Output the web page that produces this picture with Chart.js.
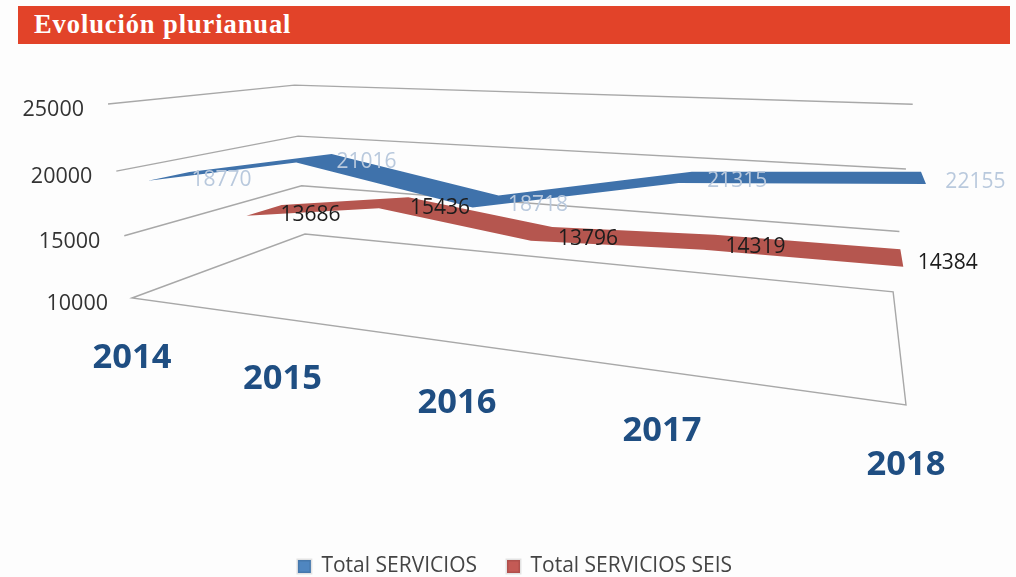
<!DOCTYPE html>
<html>
<head>
<meta charset="utf-8">
<title>Evolución plurianual</title>
<script src="https://cdn.jsdelivr.net/npm/chart.js@4"></script>
<style>
  html, body { margin: 0; background: #fdfdfd; overflow: hidden; }
  #wrap { position: relative; width: 1016px; height: 577px; overflow: hidden; }
  #header {
    position: absolute; left: 18px; top: 6px; width: 992px; height: 38px;
    background: #e24329; color: #fff; padding-left: 16px; box-sizing: border-box;
    font: bold 26.5px/37px "Liberation Serif", serif; letter-spacing: 0.9px;
  }
  canvas { position: absolute; left: 0; top: 0; filter: blur(0.5px); }
</style>
</head>
<body>
<div id="wrap">
  <canvas id="chart" width="1016" height="587"></canvas>
  <div id="header">Evolución plurianual</div>
</div>
<script>
const years = ["2014", "2015", "2016", "2017", "2018"];
const totalServicios = [18770, 21016, 18718, 21315, 22155];
const totalServiciosSeis = [13686, 15436, 13796, 14319, 14384];
const axisMin = 10000;
const axisMax = 25000;
const axisStep = 5000;

// ribbon depth inside the box for each series, 0 = front, 1 = back
const ribbons = [
  { z0: 0.13, z1: 0.33, labelColor: "#b9c9dd", dx: 52, dy: 4 },
  { z0: 0.62, z1: 0.85, labelColor: "#1c1c1c", dx: 46, dy: 5 }
];

// box corners on the page and the perspective terms of the 3D look
const A = [132, 298];
const right = [906, 405];
const up = [108, 104];
const back = [305, 234];
const p = -0.276, q = -0.055, r = 0.31;

const ax = [right[0] * (1 + p) - A[0], right[1] * (1 + p) - A[1]];
const bx = [up[0] * (1 + q) - A[0], up[1] * (1 + q) - A[1]];
const cx = [back[0] * (1 + r) - A[0], back[1] * (1 + r) - A[1]];

function project(X, Y, Z) {
  const w = 1 + X * p + Y * q + Z * r;
  return [
    (A[0] + X * ax[0] + Y * bx[0] + Z * cx[0]) / w,
    (A[1] + X * ax[1] + Y * bx[1] + Z * cx[1]) / w
  ];
}

function poly(ctx, pts) {
  ctx.beginPath();
  pts.forEach((pt, i) => i ? ctx.lineTo(pt[0], pt[1]) : ctx.moveTo(pt[0], pt[1]));
}

const box3d = {
  id: "box3d",
  beforeDatasetsDraw(chart) {
    const ctx = chart.ctx, yScale = chart.scales.y, xScale = chart.scales.x;
    const normY = v => (yScale.bottom - yScale.getPixelForValue(v)) / yScale.height;
    const normX = i => (xScale.getPixelForValue(i) - xScale.left) / xScale.width;
    ctx.save();
    ctx.strokeStyle = "#a8a8a8";
    ctx.lineWidth = 1.4;
    ctx.fillStyle = "#333";
    ctx.font = "21.5px 'Open Sans'";
    ctx.textBaseline = "middle";
    ctx.textAlign = "right";
    yScale.ticks.forEach(t => {
      const Y = normY(t.value);
      poly(ctx, [project(0, Y, 0), project(0, Y, 1), project(1, Y, 1)]);
      if (Y < 0.001) {
        ctx.lineTo(...project(1, 0, 0));
        ctx.closePath();
      }
      ctx.stroke();
      const pos = project(0, Y, 0);
      ctx.fillText(String(t.value), pos[0] - 24, pos[1] + 6);
    });
    ctx.fillStyle = "#1f4e82";
    ctx.font = "bold 34.5px 'Open Sans'";
    ctx.textAlign = "center";
    years.forEach((year, i) => {
      const pos = project(normX(i), 0, 0);
      ctx.fillText(year, pos[0], pos[1] + 60);
    });
    ctx.restore();
  },
  afterDatasetsDraw(chart) {
    const ctx = chart.ctx, area = chart.chartArea;
    const toBox = el => [(el.x - area.left) / area.width, (area.bottom - el.y) / area.height];
    ctx.save();
    // back series first so the blue one lies on top
    [1, 0].forEach(i => {
      const pts = chart.getDatasetMeta(i).data.map(toBox);
      const rb = ribbons[i];
      const front = pts.map(b => project(b[0], b[1], rb.z0));
      const rear = pts.map(b => project(b[0], b[1], rb.z1));
      poly(ctx, front.concat(rear.reverse()));
      ctx.closePath();
      ctx.fillStyle = chart.data.datasets[i].ribbonColor;
      ctx.fill();
    });
    ctx.font = "21px 'Open Sans'";
    ctx.textAlign = "center";
    ctx.textBaseline = "middle";
    [0, 1].forEach(i => {
      const rb = ribbons[i];
      chart.getDatasetMeta(i).data.forEach((el, j) => {
        const b = toBox(el);
        const pos = project(b[0], b[1], (rb.z0 + rb.z1) / 2);
        ctx.fillStyle = rb.labelColor;
        ctx.fillText(String(chart.data.datasets[i].data[j]), pos[0] + rb.dx, pos[1] + rb.dy);
      });
    });
    ctx.restore();
  }
};

new Chart(document.getElementById("chart"), {
  type: "line",
  data: {
    labels: years,
    datasets: [
      { label: "Total SERVICIOS", data: totalServicios, backgroundColor: "#4f86c0", ribbonColor: "#3f72ab", showLine: false, pointRadius: 0 },
      { label: "Total SERVICIOS SEIS", data: totalServiciosSeis, backgroundColor: "#c45a55", ribbonColor: "#b5564f", showLine: false, pointRadius: 0 }
    ]
  },
  options: {
    responsive: false,
    animation: false,
    events: [],
    layout: { padding: { left: 14 } },
    scales: {
      x: { display: false, offset: false },
      y: { display: false, min: axisMin, max: axisMax, ticks: { stepSize: axisStep } }
    },
    plugins: {
      tooltip: { enabled: false },
      legend: {
        position: "bottom",
        labels: {
          boxWidth: 13, boxHeight: 13, padding: 30, color: "#444",
          font: { family: "'Open Sans'", size: 21 }
        }
      }
    }
  },
  plugins: [box3d]
});
</script>
</body>
</html>
